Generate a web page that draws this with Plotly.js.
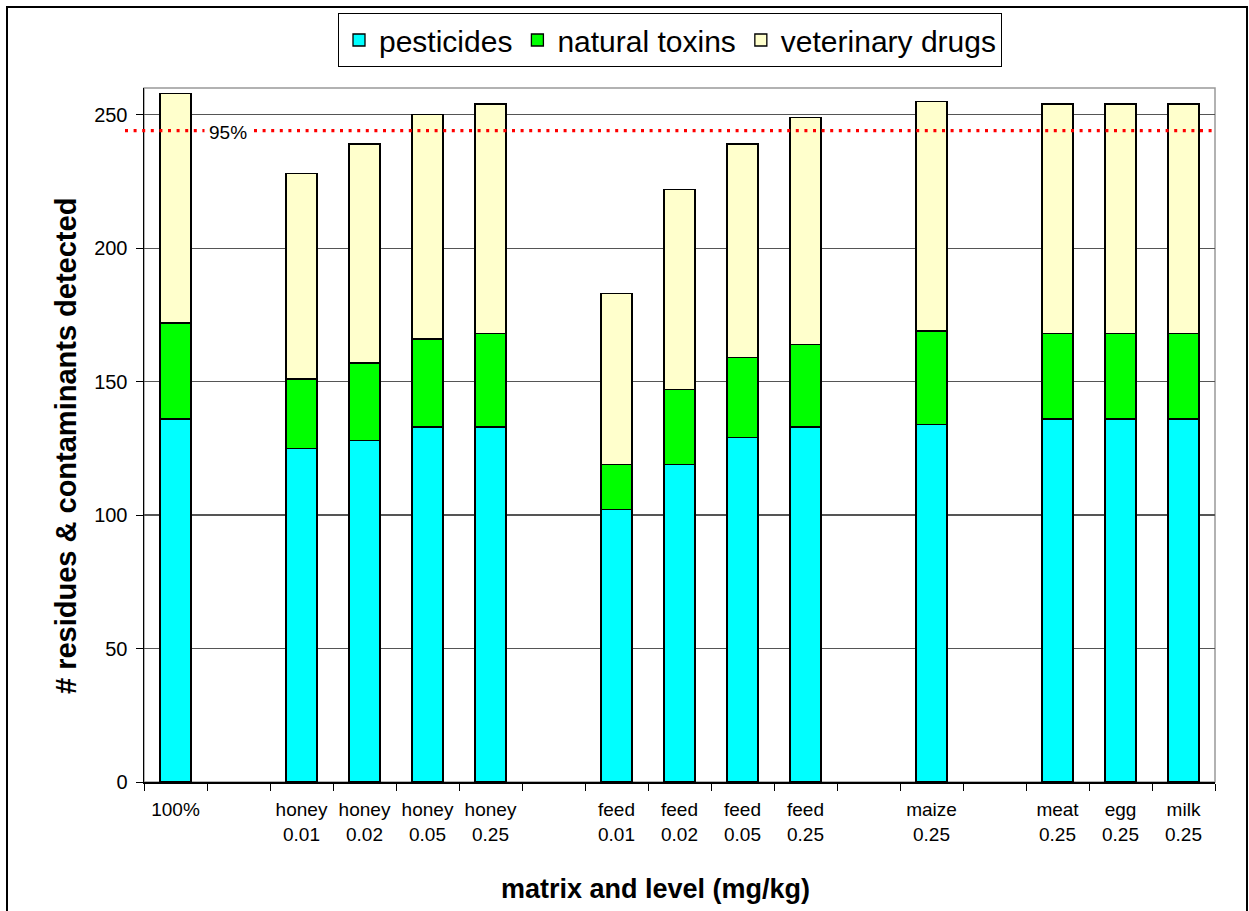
<!DOCTYPE html>
<html>
<head>
<meta charset="utf-8">
<script src="https://cdn.plot.ly/plotly-3.0.1.min.js"></script>
<style>
  html, body { margin: 0; padding: 0; background: #ffffff; }
  #chart { width: 1249px; height: 911px; }
</style>
</head>
<body>
<div id="chart"></div>
<script>
// Categories (blank slots are gaps between groups)
var categories = [
  "100%", " ",
  "honey<br>0.01", "honey<br>0.02", "honey<br>0.05", "honey<br>0.25", "  ",
  "feed<br>0.01", "feed<br>0.02", "feed<br>0.05", "feed<br>0.25", "   ",
  "maize<br>0.25", "    ",
  "meat<br>0.25", "egg<br>0.25", "milk<br>0.25"
];
var pesticides      = [136, null, 125, 128, 133, 133, null, 102, 119, 129, 133, null, 134, null, 136, 136, 136];
var naturalToxins   = [ 36, null,  26,  29,  33,  35, null,  17,  28,  30,  31, null,  35, null,  32,  32,  32];
var veterinaryDrugs = [ 86, null,  77,  82,  84,  86, null,  64,  75,  80,  85, null,  86, null,  86,  86,  86];
var seriesNames = ["pesticides", "natural toxins", "veterinary drugs"];
var threshold = 244;
var thresholdLabel = "95%";
var yTicks = [0, 50, 100, 150, 200, 250];
var xTitle = "matrix and level (mg/kg)";
var yTitle = "# residues &amp; contaminants detected";

var FONT = "Liberation Sans, Arial, sans-serif";
var outline = {color: "#000000", width: 1.3};

var traces = [
  {type: "bar", name: seriesNames[0], x: categories, y: pesticides,
   marker: {color: "#00FFFF", line: outline}, hoverinfo: "skip"},
  {type: "bar", name: seriesNames[1], x: categories, y: naturalToxins,
   marker: {color: "#00FF00", line: outline}, hoverinfo: "skip"},
  {type: "bar", name: seriesNames[2], x: categories, y: veterinaryDrugs,
   marker: {color: "#FFFFCC", line: outline}, hoverinfo: "skip"}
];

var PW = 1071, PH = 694, L = 144, T = 88;
function px2x(p) { return (p - L) / PW; }
function px2y(p) { return (T + PH - p) / PH; }

var layout = {
  width: 1249, height: 911,
  margin: {l: 144, r: 34, t: 88, b: 129, pad: 0},
  paper_bgcolor: "#ffffff", plot_bgcolor: "#ffffff",
  font: {family: FONT, color: "#000000", size: 19},
  barmode: "stack",
  bargap: 0.51,
  showlegend: true,
  legend: {
    orientation: "h", x: px2x(670), xanchor: "center", y: px2y(40), yanchor: "middle",
    bordercolor: "#000000", borderwidth: 1, bgcolor: "#ffffff",
    font: {family: FONT, size: 30, color: "#000000"},
    traceorder: "normal", itemclick: false, itemdoubleclick: false
  },
  xaxis: {
    type: "category",
    categoryorder: "array", categoryarray: categories,
    tickson: "boundaries",
    ticks: "outside", ticklen: 7, tickcolor: "#000000", tickwidth: 1,
    ticklabelstandoff: 10,
    showline: true, linecolor: "#000000", linewidth: 1.5,
    showgrid: false, zeroline: false,
    tickfont: {family: FONT, size: 19, color: "#000000"},
    fixedrange: true
  },
  yaxis: {
    range: [0, 260],
    tickvals: yTicks,
    ticks: "outside", ticklen: 7, tickcolor: "#000000", tickwidth: 1,
    ticklabelstandoff: 4,
    showline: true, linecolor: "#000000", linewidth: 1.5,
    showgrid: true, gridcolor: "#555555", gridwidth: 1.2,
    zeroline: false,
    tickfont: {family: FONT, size: 20, color: "#000000"},
    fixedrange: true
  },
  shapes: [
    // outer frame
    {type: "rect", xref: "paper", yref: "paper",
     x0: px2x(7), x1: px2x(1247), y0: -0.3, y1: px2y(7),
     line: {color: "#000000", width: 2}, fillcolor: "rgba(0,0,0,0)", layer: "below"},
    // plot area frame (gray)
    {type: "rect", xref: "paper", yref: "paper", x0: 0, x1: 1, y0: 0, y1: 1,
     line: {color: "#999999", width: 1.5}, fillcolor: "rgba(0,0,0,0)", layer: "below"},
    // 95% threshold
    {type: "line", xref: "paper", yref: "y",
     x0: px2x(125), x1: px2x(1213), y0: threshold, y1: threshold,
     line: {color: "#FF0000", width: 3.2, dash: "3px,5.6px"}, layer: "above"}
  ],
  annotations: [
    {xref: "paper", yref: "y", x: px2x(228), y: threshold,
     text: thresholdLabel, showarrow: false, xanchor: "center", yanchor: "middle",
     yshift: -2, bgcolor: "#ffffff", borderpad: 4,
     font: {family: FONT, size: 19, color: "#000000"}},
    {xref: "paper", yref: "paper", x: px2x(655), y: px2y(889),
     text: "<b>" + xTitle + "</b>", showarrow: false, xanchor: "center", yanchor: "middle",
     font: {family: FONT, size: 27, color: "#000000"}},
    {xref: "paper", yref: "paper", x: px2x(66), y: px2y(446),
     text: "<b>" + yTitle + "</b>", showarrow: false, textangle: -90,
     xanchor: "center", yanchor: "middle",
     font: {family: FONT, size: 29, color: "#000000"}}
  ]
};

Plotly.newPlot("chart", traces, layout, {staticPlot: true, displayModeBar: false});
</script>
</body>
</html>
